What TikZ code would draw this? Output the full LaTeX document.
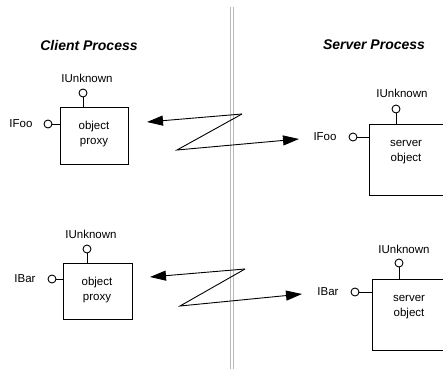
\documentclass[tikz,border=0pt]{standalone}
\usepackage{fontspec}
\setmainfont{Liberation Sans}
\usetikzlibrary{arrows.meta}
\begin{document}
\begin{tikzpicture}[x=1pt,y=-1pt,
  box/.style={draw, line width=0.9pt, inner sep=0pt, anchor=north west},
  txt/.style={font=\fontsize{11.5}{15}\selectfont, align=center, inner sep=0pt},
  lbl/.style={font=\fontsize{11.5}{14}\selectfont, inner sep=0pt},
  ttl/.style={font=\fontsize{14}{16}\selectfont\bfseries\itshape, inner sep=0pt},
  lolli/.style={draw, circle, line width=0.9pt, minimum size=8pt, inner sep=0pt},
  stem/.style={line width=0.9pt},
  msg/.style={line width=0.9pt, -{Triangle[length=16pt,width=10pt]}},
  divider/.style={draw=gray!55, line width=1pt}]
\useasboundingbox (0,0) rectangle (443,369);

% divider
\coordinate (d1t) at (230.8,7); \coordinate (d1b) at (230.8,369);
\coordinate (d2t) at (233.6,7); \coordinate (d2b) at (233.6,369);
\draw[divider] (d1t) -- (d1b);
\draw[divider] (d2t) -- (d2b);

% titles
\node[ttl] (tc) at (89,45) {Client Process};
\node[ttl] (ts) at (374,45) {Server Process};

% top client proxy
\node[box, minimum width=68pt, minimum height=57pt] (p1) at (60,107) {};
\node[txt] (p1t) at (94,134) {object\\proxy};
\node[lolli] (p1u) at (83,93) {};
\draw[stem] (p1u) -- (p1u |- p1.north);
\node[lbl] (p1ul) at (87,78) {IUnknown};
\node[lolli] (p1f) at (48,124) {};
\draw[stem] (p1f) -- (p1f -| p1.west);
\node[lbl] (p1fl) at (21,124) {IFoo};

% top server object
\node[box, minimum width=73.5pt, minimum height=71pt] (s1) at (369,124) {};
\node[txt] (s1t) at (406,152) {server\\object};
\node[lolli] (s1u) at (396,109) {};
\draw[stem] (s1u) -- (s1u |- s1.north);
\node[lbl] (s1ul) at (402,93) {IUnknown};
\node[lolli] (s1f) at (353,137) {};
\draw[stem] (s1f) -- (s1f -| s1.west);
\node[lbl] (s1fl) at (325,137) {IFoo};

% top zigzag
\coordinate (a1) at (147,122);
\coordinate (z1a) at (242,114);
\coordinate (z1b) at (177,150);
\coordinate (b1) at (299,139);
\draw[msg] (z1a) -- (a1);
\draw[msg] (z1a) -- (z1b) -- (b1);

% bottom client proxy
\node[box, minimum width=69pt, minimum height=56pt] (p2) at (63,263) {};
\node[txt] (p2t) at (97,290) {object\\proxy};
\node[lolli] (p2u) at (87,249) {};
\draw[stem] (p2u) -- (p2u |- p2.north);
\node[lbl] (p2ul) at (91,234) {IUnknown};
\node[lolli] (p2f) at (52,279) {};
\draw[stem] (p2f) -- (p2f -| p2.west);
\node[lbl] (p2fl) at (25,279) {IBar};

% bottom server object
\node[box, minimum width=70.5pt, minimum height=71pt] (s2) at (372,279) {};
\node[txt] (s2t) at (409,307.5) {server\\object};
\node[lolli] (s2u) at (399,263) {};
\draw[stem] (s2u) -- (s2u |- s2.north);
\node[lbl] (s2ul) at (404,249) {IUnknown};
\node[lolli] (s2f) at (355,292) {};
\draw[stem] (s2f) -- (s2f -| s2.west);
\node[lbl] (s2fl) at (328,292) {IBar};

% bottom zigzag
\coordinate (a2) at (150,277);
\coordinate (z2a) at (245,269);
\coordinate (z2b) at (180,306);
\coordinate (b2) at (302,294);
\draw[msg] (z2a) -- (a2);
\draw[msg] (z2a) -- (z2b) -- (b2);
\end{tikzpicture}
\end{document}
